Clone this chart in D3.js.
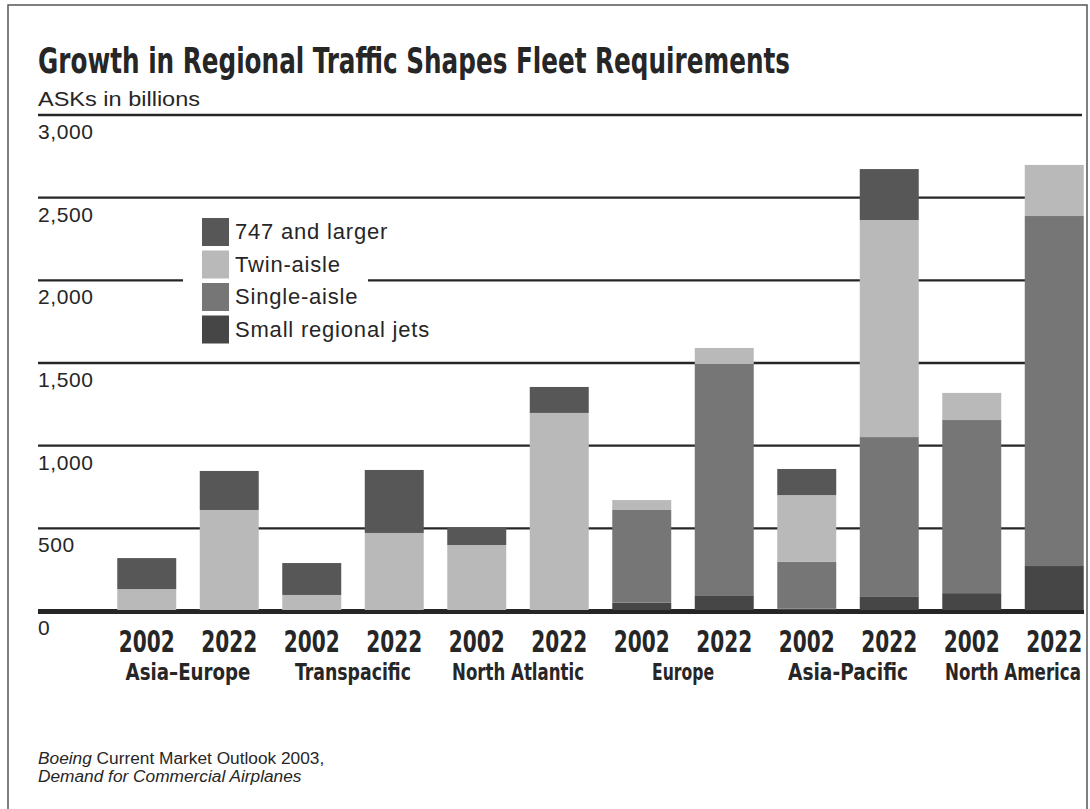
<!DOCTYPE html>
<html>
<head>
<meta charset="utf-8">
<script src="https://cdn.jsdelivr.net/npm/d3@7/dist/d3.min.js"></script>
<style>
  html, body { margin: 0; padding: 0; background: #fff; }
  svg { display: block; }
</style>
</head>
<body>
<svg id="chart" width="1090" height="809"></svg>
<script>
// ---- data ----
const years = ["2002","2022","2002","2022","2002","2022","2002","2022","2002","2022","2002","2022"];
const regions = ["Asia\u2013Europe","Transpacific","North Atlantic","Europe","Asia-Pacific","North America"];
const seriesNames = ["Small regional jets","Single-aisle","Twin-aisle","747 and larger"];
const smallRegional = [0, 0, 0, 0, 0, 0, 50, 95, 15, 85, 108, 272];
const singleAisle   = [0, 0, 0, 0, 0, 0, 561, 1399, 282, 967, 1047, 2117];
const twinAisle     = [133, 611, 97, 472, 399, 1198, 60, 97, 404, 1313, 164, 309];
const large747      = [187, 236, 193, 381, 103, 157, 0, 0, 158, 308, 0, 0];
const yTicks = [0, 500, 1000, 1500, 2000, 2500, 3000];
const legendOrder = ["747 and larger","Twin-aisle","Single-aisle","Small regional jets"];

// ---- setup ----
const svg = d3.select("#chart");
const colors = {
  "747 and larger": "#575757",
  "Twin-aisle": "#b9b9b9",
  "Single-aisle": "#767676",
  "Small regional jets": "#464646"
};
const ink = "#262626";
const condensed = "'Liberation Sans Narrow','DejaVu Sans Condensed','Arial Narrow',sans-serif";
const sans = "'Liberation Sans',Arial,Helvetica,sans-serif";
const regionWidths = [125, 116, 132, 62, 120, 136];

const keys = years.map((y, i) => i);
const x = d3.scaleBand().domain(keys).range([105.5, 1095.5]).paddingInner(0.285).paddingOuter(0.1425);
const y = d3.scaleLinear().domain([0, 3000]).range([611, 115]);

const rows = keys.map(i => ({
  i,
  "Small regional jets": smallRegional[i],
  "Single-aisle": singleAisle[i],
  "Twin-aisle": twinAisle[i],
  "747 and larger": large747[i]
}));
const stacked = d3.stack().keys(seriesNames)(rows);

// squeeze a text horizontally to a target width (keeps real bbox inside)
function fitWidth(sel, cx, cy, target) {
  const node = sel.node();
  const w = node.getComputedTextLength();
  const s = w > 0 ? target / w : 1;
  sel.attr("x", 0).attr("y", 0).attr("transform", `translate(${cx},${cy}) scale(${s},1)`);
}

// frame
svg.append("rect").attr("x", 8).attr("y", 5).attr("width", 1079).attr("height", 820)
  .attr("fill", "none").attr("stroke", "#555").attr("stroke-width", 1.5);

// title
svg.append("text").attr("x", 38).attr("y", 73)
  .attr("font-family", condensed).attr("font-weight", "bold").attr("font-size", 36)
  .attr("fill", ink).attr("textLength", 752).attr("lengthAdjust", "spacingAndGlyphs")
  .text("Growth in Regional Traffic Shapes Fleet Requirements");

svg.append("text").attr("x", 38).attr("y", 106)
  .attr("font-family", sans).attr("font-size", 20).attr("fill", ink)
  .attr("textLength", 162).attr("lengthAdjust", "spacingAndGlyphs")
  .text("ASKs in billions");

// gridlines
const grid = svg.append("g");
grid.selectAll("line").data(yTicks).join("line")
  .attr("x1", 38).attr("x2", 1082)
  .attr("y1", d => y(d)).attr("y2", d => y(d))
  .attr("stroke", ink).attr("stroke-width", d => d === 0 ? 4 : 2.4);

// y tick labels
svg.append("g").selectAll("text").data(yTicks).join("text")
  .attr("x", 38).attr("y", d => y(d) + 24)
  .attr("font-family", sans).attr("font-size", 21).attr("letter-spacing", 0.6).attr("fill", ink)
  .text(d => d3.format(",")(d));

// legend (white box masks grid)
const lg = svg.append("g");
lg.append("rect").attr("x", 183).attr("y", 212).attr("width", 185).attr("height", 134).attr("fill", "#fff");
legendOrder.forEach((name, k) => {
  const yy = 218 + k * 32.5;
  lg.append("rect").attr("x", 202).attr("y", yy).attr("width", 27).attr("height", 28)
    .attr("fill", colors[name]);
  lg.append("text").attr("x", 235).attr("y", yy + 21)
    .attr("font-family", sans).attr("font-size", 22).attr("letter-spacing", 0.8).attr("fill", ink).text(name);
});

// bars
const bars = svg.append("g");
stacked.forEach(layer => {
  bars.append("g").attr("fill", colors[layer.key])
    .selectAll("rect").data(layer.filter(d => d[1] - d[0] > 0)).join("rect")
    .attr("x", d => x(d.data.i))
    .attr("width", x.bandwidth())
    .attr("y", d => y(d[1]))
    .attr("height", d => y(d[0]) - y(d[1]));
});

// redraw baseline on top
svg.append("line").attr("x1", 38).attr("x2", 1084).attr("y1", y(0) + 1).attr("y2", y(0) + 1)
  .attr("stroke", ink).attr("stroke-width", 4);

// year labels
const yearG = svg.append("g");
keys.forEach(d => {
  const t = yearG.append("text")
    .attr("text-anchor", "middle")
    .attr("font-family", condensed).attr("font-weight", "bold").attr("font-size", 30)
    .attr("fill", ink).text(years[d]);
  fitWidth(t, x(d) + x.bandwidth() / 2, 652, 56);
});

// region labels
const regG = svg.append("g");
regions.forEach((name, k) => {
  const t = regG.append("text")
    .attr("text-anchor", "middle")
    .attr("font-family", condensed).attr("font-weight", "bold").attr("font-size", 23)
    .attr("fill", ink).text(name);
  fitWidth(t, (x(2 * k) + x(2 * k + 1) + x.bandwidth()) / 2, 680, regionWidths[k]);
});

// source
const src = svg.append("g").attr("font-family", sans).attr("font-size", 17.3).attr("fill", ink);
const t1 = src.append("text").attr("x", 38).attr("y", 764);
t1.append("tspan").attr("font-style", "italic").text("Boeing");
t1.append("tspan").text(" Current Market Outlook 2003,");
src.append("text").attr("x", 38).attr("y", 782).attr("font-style", "italic")
  .text("Demand for Commercial Airplanes");
</script>
</body>
</html>
